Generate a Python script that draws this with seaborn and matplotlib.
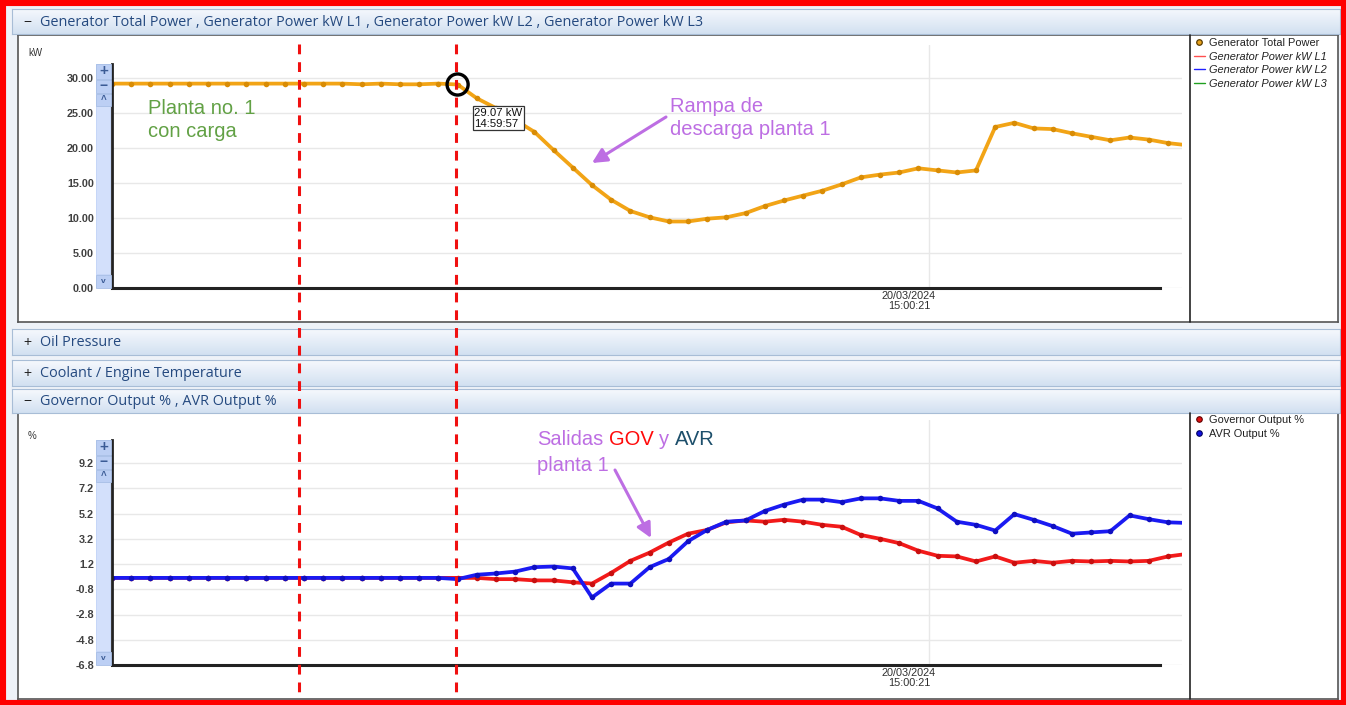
"""
Generator trend screenshot: total power ramp-down and governor / AVR outputs
"""

import matplotlib
matplotlib.use("Agg")
import matplotlib.pyplot as plt
import matplotlib.transforms as mtransforms
from matplotlib.patches import Rectangle
from matplotlib.lines import Line2D
from matplotlib.colors import LinearSegmentedColormap
import seaborn as sns
import pandas as pd
import numpy as np
from datetime import datetime, timedelta

W, H = 1346, 705

# ---------------------------------------------------------------- data
power_kw = [29.2, 29.2, 29.2, 29.2, 29.2, 29.2, 29.2, 29.2, 29.2, 29.2,
            29.2, 29.2, 29.2, 29.1, 29.2, 29.1, 29.1, 29.2, 29.07, 27.1,
            25.7, 24.0, 22.3, 19.7, 17.2, 14.7, 12.6, 11.0, 10.1, 9.5,
            9.5, 9.9, 10.1, 10.7, 11.7, 12.5, 13.2, 13.9, 14.8, 15.8,
            16.2, 16.5, 17.1, 16.8, 16.5, 16.8, 23.0, 23.6, 22.8, 22.7,
            22.1, 21.6, 21.1, 21.5, 21.2, 20.7, 20.4]
gov_pct = [0.1, 0.1, 0.1, 0.1, 0.1, 0.1, 0.1, 0.1, 0.1, 0.1,
           0.1, 0.1, 0.1, 0.1, 0.1, 0.1, 0.1, 0.1, 0.1, 0.1,
           0.0, 0.0, -0.1, -0.1, -0.25, -0.35, 0.5, 1.45, 2.1, 2.9,
           3.6, 3.9, 4.5, 4.65, 4.55, 4.7, 4.55, 4.3, 4.15, 3.5,
           3.2, 2.85, 2.25, 1.85, 1.8, 1.4, 1.8, 1.3, 1.45, 1.3,
           1.45, 1.4, 1.45, 1.4, 1.45, 1.8, 2.0]
avr_pct = [0.1, 0.1, 0.1, 0.1, 0.1, 0.1, 0.1, 0.1, 0.1, 0.1,
           0.1, 0.1, 0.1, 0.1, 0.1, 0.1, 0.1, 0.1, 0.0, 0.35,
           0.45, 0.6, 0.95, 1.0, 0.85, -1.45, -0.35, -0.35, 0.95, 1.6,
           3.0, 3.9, 4.55, 4.65, 5.4, 5.9, 6.3, 6.3, 6.1, 6.4,
           6.4, 6.2, 6.2, 5.6, 4.55, 4.3, 3.85, 5.15, 4.7, 4.2,
           3.6, 3.7, 3.8, 5.05, 4.75, 4.5, 4.45]
sample_idx = list(range(len(power_kw)))

start_time = datetime(2024, 3, 20, 14, 59, 39)
cursor_idx = 18                      # sample under the tooltip
event_lines = [9.75, 17.9]           # red dashed markers (sample units)
date_tick = 42.55
date_label = "20/03/2024\n15:00:21"
kw_ticks = [0, 5, 10, 15, 20, 25, 30]
pct_ticks = [-6.8, -4.8, -2.8, -0.8, 1.2, 3.2, 5.2, 7.2, 9.2]

headers = [
    ("\u2212", "Generator Total Power , Generator Power kW L1 , Generator Power kW L2 , Generator Power kW L3", 9, 25),
    ("+", "Oil Pressure", 329, 26),
    ("+", "Coolant / Engine Temperature", 360, 26),
    ("\u2212", "Governor Output % , AVR Output %", 389, 24),
]
top_legend = ["Generator Total Power", "Generator Power kW L1",
              "Generator Power kW L2", "Generator Power kW L3"]
low_legend = ["Governor Output %", "AVR Output %"]

ORANGE = "#f2a416"
RED = "#f21a1a"
BLUE = "#1a1af2"
PURPLE = "#bd6ee3"
GREEN = "#62a145"
HEAD_TXT = "#24497f"


def rect(x, y, w, h):
    """pixel box (top-left origin) -> figure fraction"""
    return [x / W, 1 - (y + h) / H, w / W, h / H]


def fpt(x, y):
    return (x / W, 1 - y / H)


sns.set_style("white")
plt.rcParams["font.family"] = ["Liberation Sans", "DejaVu Sans"]

fig = plt.figure(figsize=(W / 100, H / 100), dpi=100)
fig.patch.set_facecolor("#eef2f8")

# ---------------------------------------------------------------- panel chrome
grad = np.linspace(0, 1, 50).reshape(-1, 1)
head_cmap = LinearSegmentedColormap.from_list("hd", ["#f6f9fd", "#d2e0f1"])
for sign, title, y, h in headers:
    hax = fig.add_axes(rect(12, y, 1328, h), zorder=-1)
    hax.imshow(grad, aspect="auto", cmap=head_cmap, extent=[0, 1, 0, 1])
    hax.set_xticks([])
    hax.set_yticks([])
    for s in hax.spines.values():
        s.set_color("#a8bdd6")
        s.set_linewidth(0.8)
    fig.text(*fpt(27, y + h / 2), sign, fontsize=10, color="#222", ha="center", va="center")
    fig.text(*fpt(40, y + h / 2 + 0.5), title, fontsize=10.4, color=HEAD_TXT,
             ha="left", va="center", family=["Open Sans", "DejaVu Sans"])

for y, h in [(35, 287), (413, 286)]:
    bg = fig.add_axes(rect(18, y, 1320, h), zorder=-2)
    bg.set_facecolor("white")
    bg.set_xticks([])
    bg.set_yticks([])
    for s in bg.spines.values():
        s.set_color("#555")
        s.set_linewidth(1.2)
    fig.add_artist(Line2D([1190 / W, 1190 / W], [1 - y / H, 1 - (y + h) / H],
                          transform=fig.transFigure, color="#222", lw=1.2))


def draw_scrollbar(y_top, y_bot):
    x, w = 96, 15
    fig.add_artist(Rectangle(fpt(x, y_bot), w / W, (y_bot - y_top) / H,
                             transform=fig.transFigure, fc="#c6d6f7", ec="none", zorder=1))
    fig.add_artist(Rectangle(fpt(x + 1, y_bot - 14), (w - 2) / W, (y_bot - y_top - 57) / H,
                             transform=fig.transFigure, fc="#d3e0fb", ec="none", zorder=1))
    for (b0, b1, glyph, fs) in [(0, 15, "+", 11), (16, 29, "\u2212", 10),
                                (30, 42, "^", 7), (y_bot - y_top - 13, y_bot - y_top, "v", 6)]:
        fig.add_artist(Rectangle(fpt(x, y_top + b1), w / W, (b1 - b0) / H,
                                 transform=fig.transFigure, fc="#bccff4", ec="#a9bfe6",
                                 lw=0.6, zorder=1))
        fig.text(*fpt(x + w / 2, y_top + (b0 + b1) / 2), glyph, fontsize=fs,
                 color="#3b5b95", ha="center", va="center", fontweight="bold", zorder=2)


draw_scrollbar(64, 288)
draw_scrollbar(440, 665)

# ---------------------------------------------------------------- plot axes
x_max = (1182 - 112) / 19.2
ax_top = fig.add_axes(rect(112, 45, 1070, 243))
ax_low = fig.add_axes(rect(112, 420, 1070, 245))

sns.lineplot(x=sample_idx, y=power_kw, ax=ax_top, color=ORANGE, lw=2.7,
             marker="o", markersize=4, markeredgewidth=0, markerfacecolor="#d98c05")
sns.lineplot(x=sample_idx, y=gov_pct, ax=ax_low, color=RED, lw=2.7,
             marker="o", markersize=4, markeredgewidth=0, markerfacecolor="#c80f0f")
sns.lineplot(x=sample_idx, y=avr_pct, ax=ax_low, color=BLUE, lw=2.7,
             marker="o", markersize=4, markeredgewidth=0, markerfacecolor="#0f0fc0")

ax_top.set_ylim(0, 243 / 7)
ax_low.set_ylim(-6.8, -6.8 + 245 / 12.625)
ax_top.set_yticks(kw_ticks)
ax_top.set_yticklabels([f"{v:.2f}" for v in kw_ticks])
ax_low.set_yticks(pct_ticks)
ax_low.set_yticklabels([f"{v:.1f}" for v in pct_ticks])

shift = mtransforms.ScaledTranslation(-20 / 100, 0, fig.dpi_scale_trans)
for ax, spine_top in [(ax_top, 224 / 7), (ax_low, -6.8 + 225 / 12.625)]:
    ax.set_facecolor("none")
    ax.set_xlim(0, x_max)
    ax.set_xticks([date_tick])
    ax.set_xticklabels([date_label])
    ax.set_xlabel("")
    ax.set_ylabel("")
    ax.grid(True, color="#e8e8e8", lw=1)
    ax.tick_params(axis="y", length=0, pad=13, labelsize=7.8, labelcolor="#404040")
    ax.tick_params(axis="x", length=0, pad=2, labelsize=7.8, labelcolor="#303030")
    for lab in ax.get_xticklabels():
        lab.set_linespacing(1.0)
        lab.set_transform(lab.get_transform() + shift)
    for lab in ax.get_yticklabels():
        lab.set_fontweight("bold")
    for side in ["top", "right"]:
        ax.spines[side].set_visible(False)
    ax.spines["left"].set_color("#222")
    ax.spines["left"].set_linewidth(2)
    ax.spines["left"].set_bounds(ax.get_ylim()[0], spine_top)
    ax.spines["bottom"].set_color("#222")
    ax.spines["bottom"].set_linewidth(2.2)
    ax.spines["bottom"].set_bounds(0, (1160 - 112) / 19.2)

fig.text(*fpt(28, 53), "kW", fontsize=7, color="#333", va="center")
fig.text(*fpt(28, 436), "%", fontsize=7, color="#333", va="center")

# cursor + tooltip
ax_top.scatter([cursor_idx], [power_kw[cursor_idx]], s=230, facecolors="none",
               edgecolors="black", linewidths=2.4, zorder=5)
cursor_time = (start_time + timedelta(seconds=cursor_idx)).strftime("%H:%M:%S")
ax_top.annotate(f"{power_kw[cursor_idx]:.2f} kW\n{cursor_time}",
                xy=(cursor_idx, power_kw[cursor_idx]), xytext=(12, -17),
                textcoords="offset points", ha="left", va="top", fontsize=8.2,
                linespacing=1.05, color="#111",
                bbox=dict(boxstyle="square,pad=0.15", fc="white", ec="#333", lw=0.9),
                zorder=6)

# red dashed event markers spanning both panels
blend = mtransforms.blended_transform_factory(ax_top.transData, fig.transFigure)
for xv in event_lines:
    fig.add_artist(Line2D([xv, xv], [1 - 44 / H, 1 - 697 / H], transform=blend,
                          color="#f01010", lw=2.2, ls=(0, (3.2, 2.6)), zorder=20))

# ---------------------------------------------------------------- legends
top_handles = [
    Line2D([], [], ls="none", marker="o", ms=4, mfc="#e8a21c", mec="#5a3c00", mew=0.9),
    Line2D([], [], color="#ff5050", lw=1),
    Line2D([], [], color="#2020ff", lw=1),
    Line2D([], [], color="#20a020", lw=1),
]
leg = fig.legend(top_handles, top_legend, loc="upper left", bbox_to_anchor=fpt(1194, 38),
                 frameon=False, fontsize=7.9, handlelength=1.0, handletextpad=0.35,
                 labelspacing=0.32, borderpad=0, borderaxespad=0)
for t in leg.get_texts()[1:]:
    t.set_fontstyle("italic")
for t in leg.get_texts():
    t.set_color("#222")

low_handles = [
    Line2D([], [], ls="none", marker="o", ms=4, mfc="#e01010", mec="#600000", mew=0.8),
    Line2D([], [], ls="none", marker="o", ms=4, mfc="#1010e0", mec="#000060", mew=0.8),
]
leg2 = fig.legend(low_handles, low_legend, loc="upper left", bbox_to_anchor=fpt(1194, 415),
                  frameon=False, fontsize=7.9, handlelength=1.0, handletextpad=0.35,
                  labelspacing=0.32, borderpad=0, borderaxespad=0)
for t in leg2.get_texts():
    t.set_color("#222")

# ---------------------------------------------------------------- annotations
note = dict(fontsize=14.5, va="top", ha="left", linespacing=1.25, zorder=15)
fig.text(*fpt(148, 99), "Planta no. 1\ncon carga", color=GREEN, **note)
fig.text(*fpt(670, 97), "Rampa de\ndescarga planta 1", color=PURPLE, **note)

arrow = dict(arrowstyle="-|>", color=PURPLE, lw=2.2, mutation_scale=22,
             shrinkA=0, shrinkB=0)
fig.add_artist(plt.Annotation("", xy=fpt(592, 163), xytext=fpt(666, 117),
                              xycoords="figure fraction", arrowprops=arrow, zorder=15))
fig.add_artist(plt.Annotation("", xy=fpt(651, 538), xytext=fpt(615, 470),
                              xycoords="figure fraction", arrowprops=arrow, zorder=15))

t1 = fig.text(*fpt(537, 430), "Salidas", color=PURPLE, **note)
parts = [("GOV", "#ff0a0a"), ("y", PURPLE), ("AVR", "#1d4f6b")]
prev = t1
for word, col in parts:
    prev = fig.add_artist(plt.Annotation(word, xy=(1, 0), xycoords=prev, xytext=(4, 0),
                                         textcoords="offset points", ha="left", va="bottom",
                                         fontsize=14.5, color=col, zorder=15))
fig.text(*fpt(537, 456), "planta 1", color=PURPLE, **note)

# outer red frame
fig.add_artist(Rectangle((0, 0), 1, 1, transform=fig.transFigure, fill=False,
                         ec="#ff0000", lw=8, zorder=30))

fig.savefig("out.png", dpi=100)
